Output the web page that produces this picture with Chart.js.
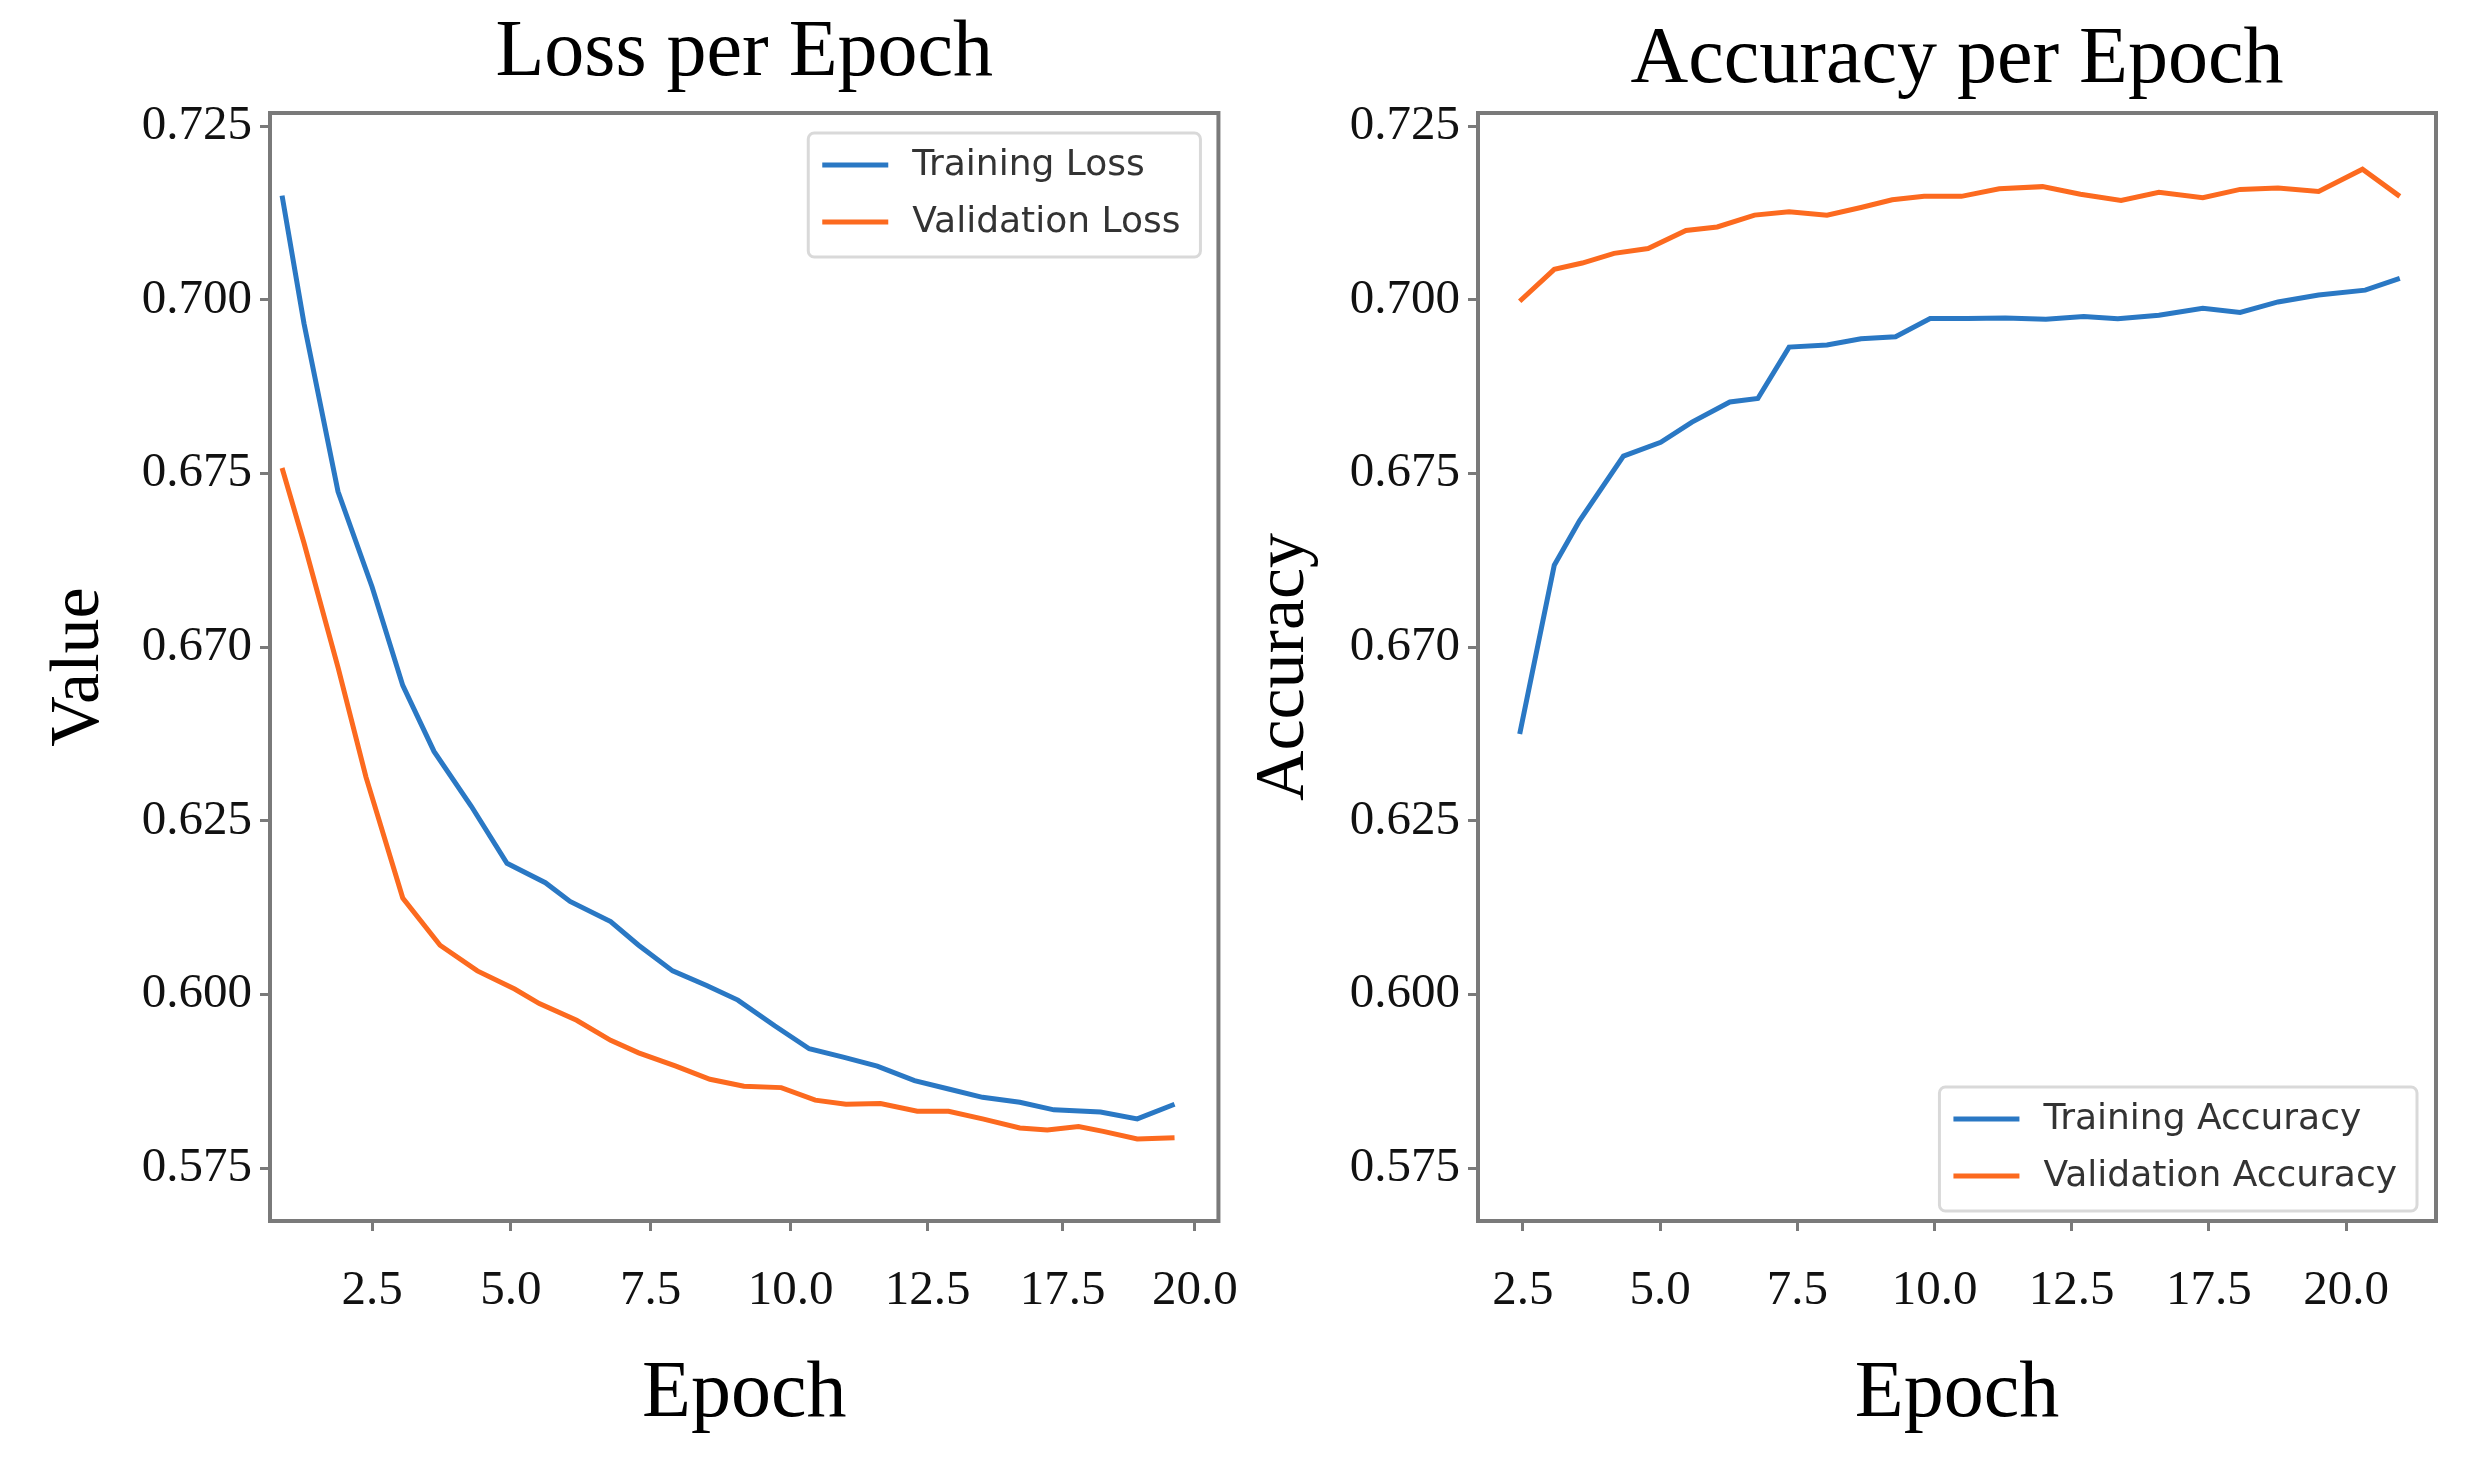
<!DOCTYPE html>
<html>
<head>
<meta charset="utf-8">
<title>Loss and Accuracy per Epoch</title>
<script src="https://cdn.jsdelivr.net/npm/chart.js@4.4.1/dist/chart.umd.min.js"></script>
<style>
    html, body { margin: 0; padding: 0; background: #fff; }
    body { width: 2492px; height: 1471px; position: relative; overflow: hidden; }
    canvas { position: absolute; top: 0; }
    #lossChart { left: 0; }
    #accChart { left: 1200px; }
</style>
</head>
<body>
<canvas id="lossChart" width="1270" height="1471"></canvas>
<canvas id="accChart" width="1292" height="1471"></canvas>
<script>
// Tick positions and the (odd) labels printed in the figure
const lossXTicks = [2.5, 5.03, 7.58, 10.13, 12.63, 15.09, 17.5];
const accXTicks = [2.5, 5, 7.5, 10, 12.5, 15, 17.5];
const xTickLabels = ['2.5', '5.0', '7.5', '10.0', '12.5', '17.5', '20.0'];
const yTickValues = [0.575, 0.600, 0.625, 0.650, 0.675, 0.700, 0.725];
const yTickLabels = ['0.575', '0.600', '0.625', '0.670', '0.675', '0.700', '0.725'];

// Loss per epoch
const lossTrainEpochs = [0.86, 1.26, 1.88, 2.50, 3.06, 3.63, 4.31, 4.96, 5.66, 6.11, 6.85, 7.36, 7.98, 8.60, 9.17, 9.84, 10.47, 11.09, 11.71, 12.39, 13.01, 13.63, 14.31, 14.93, 15.78, 16.45, 17.13];
const lossTrain = [0.7150, 0.6966, 0.6724, 0.6587, 0.6445, 0.6350, 0.6271, 0.6189, 0.6161, 0.6134, 0.6105, 0.6071, 0.6034, 0.6013, 0.5992, 0.5955, 0.5922, 0.5910, 0.5897, 0.5876, 0.5864, 0.5852, 0.5845, 0.5834, 0.5831, 0.5821, 0.5842];
const lossValEpochs = [0.86, 1.26, 1.88, 2.39, 3.06, 3.74, 4.42, 5.10, 5.55, 6.23, 6.85, 7.36, 8.04, 8.66, 9.28, 9.96, 10.58, 11.14, 11.77, 12.44, 13.01, 13.63, 14.31, 14.81, 15.38, 15.83, 16.45, 17.13];
const lossVal = [0.6758, 0.6650, 0.6471, 0.6313, 0.6139, 0.6071, 0.6034, 0.6008, 0.5987, 0.5963, 0.5934, 0.5916, 0.5897, 0.5878, 0.5868, 0.5866, 0.5848, 0.5842, 0.5843, 0.5832, 0.5832, 0.5821, 0.5808, 0.5805, 0.5810, 0.5803, 0.5792, 0.5794];

// Accuracy per epoch
const accTrainEpochs = [2.44, 3.07, 3.53, 4.33, 5.01, 5.58, 6.27, 6.78, 7.35, 8.04, 8.66, 9.29, 9.92, 10.60, 11.29, 12.03, 12.72, 13.34, 14.09, 14.89, 15.57, 16.26, 17.00, 17.85, 18.48];
const accTrain = [0.6375, 0.6618, 0.6682, 0.6775, 0.6795, 0.6824, 0.6853, 0.6858, 0.6932, 0.6935, 0.6944, 0.6947, 0.6973, 0.6973, 0.6974, 0.6972, 0.6976, 0.6973, 0.6978, 0.6988, 0.6982, 0.6997, 0.7007, 0.7014, 0.7031];
const accValEpochs = [2.44, 3.07, 3.58, 4.16, 4.78, 5.47, 6.04, 6.72, 7.35, 8.04, 8.66, 9.23, 9.81, 10.49, 11.18, 11.97, 12.66, 13.40, 14.09, 14.89, 15.57, 16.26, 17.00, 17.80, 18.48];
const accVal = [0.6998, 0.7044, 0.7053, 0.7067, 0.7074, 0.7100, 0.7105, 0.7122, 0.7127, 0.7122, 0.7133, 0.7144, 0.7149, 0.7149, 0.7160, 0.7163, 0.7152, 0.7143, 0.7155, 0.7147, 0.7159, 0.7161, 0.7156, 0.7188, 0.7149];

const BLUE = '#2a78c4';
const ORANGE = '#fc6a1f';
const SPINE = '#7a7a7a';
const SERIF = '"Liberation Serif", "Times New Roman", serif';

// plot area edges shared by both panels
const AREA_TOP = 113;
const AREA_BOTTOM = 1221;
const CANVAS_H = 1471;

Chart.defaults.font.family = SERIF;
Chart.defaults.color = '#111';

const toPoints = (xs, ys) => xs.map((x, i) => ({ x: x, y: ys[i] }));

// matplotlib-like frame round the plot area
const framePlugin = {
    id: 'frame',
    afterDatasetsDraw(chart) {
        const { ctx, chartArea: a } = chart;
        ctx.save();
        ctx.strokeStyle = SPINE;
        ctx.lineWidth = 4;
        ctx.strokeRect(a.left, a.top, a.right - a.left, a.bottom - a.top);
        ctx.restore();
    }
};

// boxed legend inside the plot area
const boxLegendPlugin = {
    id: 'boxLegend',
    afterDraw(chart, args, opts) {
        const { ctx, chartArea: a } = chart;
        const datasets = chart.data.datasets;
        ctx.save();
        ctx.font = '36px "DejaVu Sans", sans-serif';
        const textW = Math.max(...datasets.map(d => ctx.measureText(d.label).width));
        const w = 104 + textW + 20;
        const h = 124;
        const x = a.right - opts.right - w;
        const y = opts.corner === 'top' ? a.top + opts.offset : a.bottom - opts.offset - h;

        ctx.fillStyle = 'rgba(255,255,255,0.9)';
        ctx.strokeStyle = '#d9d9d9';
        ctx.lineWidth = 3;
        ctx.beginPath();
        ctx.roundRect(x, y, w, h, 6);
        ctx.fill();
        ctx.stroke();

        datasets.forEach((d, i) => {
            const rowY = y + 32 + i * 57;
            ctx.strokeStyle = d.borderColor;
            ctx.lineWidth = 5;
            ctx.beginPath();
            ctx.moveTo(x + 14, rowY);
            ctx.lineTo(x + 80, rowY);
            ctx.stroke();
            ctx.fillStyle = '#333';
            ctx.textBaseline = 'middle';
            ctx.fillText(d.label, x + 104, rowY + 1);
        });
        ctx.restore();
    }
};

function makeChart(canvasId, cfg) {
    const canvas = document.getElementById(canvasId);
    return new Chart(canvas.getContext('2d'), {
        type: 'line',
        data: {
            datasets: cfg.series.map(s => ({
                label: s.label,
                data: toPoints(s.xs, s.ys),
                borderColor: s.color,
                backgroundColor: s.color,
                borderWidth: 5,
                pointRadius: 0,
                tension: 0,
                fill: false
            }))
        },
        options: {
            responsive: false,
            animation: false,
            devicePixelRatio: 1,
            layout: { padding: { left: 0, right: cfg.padRight, top: 0, bottom: 0 } },
            plugins: {
                legend: { display: false },
                tooltip: { enabled: false },
                title: {
                    display: true,
                    text: cfg.title,
                    fullSize: false,
                    color: '#000',
                    font: { family: SERIF, size: 80, weight: 'normal', lineHeight: 1.2 },
                    padding: { top: cfg.titleTop, bottom: AREA_TOP - 96 - cfg.titleTop }
                },
                boxLegend: cfg.legend
            },
            scales: {
                x: {
                    type: 'linear',
                    min: cfg.xMin,
                    max: cfg.xMax,
                    afterBuildTicks: axis => { axis.ticks = cfg.xTicks.map(v => ({ value: v })); },
                    afterFit: axis => { axis.height = CANVAS_H - AREA_BOTTOM; },
                    border: { display: false },
                    grid: { drawOnChartArea: false, drawTicks: true, tickLength: 10, tickWidth: 3, tickColor: SPINE },
                    ticks: {
                        autoSkip: false,
                        maxRotation: 0,
                        padding: 31,
                        color: '#111',
                        font: { family: SERIF, size: 49 },
                        callback: (value, index) => xTickLabels[index]
                    },
                    title: {
                        display: true,
                        text: 'Epoch',
                        color: '#000',
                        font: { family: SERIF, size: 80, lineHeight: 1.2 },
                        padding: { top: 0, bottom: 28 }
                    }
                },
                y: {
                    type: 'linear',
                    min: 0.5674,
                    max: 0.7269,
                    afterBuildTicks: axis => { axis.ticks = yTickValues.map(v => ({ value: v })); },
                    afterFit: axis => { axis.width = cfg.yWidth; },
                    border: { display: false },
                    grid: { drawOnChartArea: false, drawTicks: true, tickLength: 10, tickWidth: 3, tickColor: SPINE },
                    ticks: {
                        autoSkip: false,
                        padding: 8,
                        color: '#111',
                        font: { family: SERIF, size: 49 },
                        callback: (value, index) => yTickLabels[index]
                    },
                    title: {
                        display: true,
                        text: cfg.yTitle,
                        color: '#000',
                        font: { family: SERIF, size: 70, lineHeight: 1.2 },
                        padding: { top: cfg.yTitlePad, bottom: 0 }
                    }
                }
            }
        },
        plugins: [framePlugin, boxLegendPlugin]
    });
}

makeChart('lossChart', {
    title: 'Loss per Epoch',
    titleTop: 6,
    yTitle: 'Value',
    yTitlePad: 38,
    yWidth: 270,
    padRight: 24,
    xMin: 0.64,
    xMax: 17.93,
    xTicks: lossXTicks,
    legend: { corner: 'top', right: 18, offset: 20 },
    series: [
        { label: 'Training Loss', xs: lossTrainEpochs, ys: lossTrain, color: BLUE },
        { label: 'Validation Loss', xs: lossValEpochs, ys: lossVal, color: ORANGE }
    ]
});

makeChart('accChart', {
    title: 'Accuracy per Epoch',
    titleTop: 13,
    yTitle: 'Accuracy',
    yTitlePad: 43,
    yWidth: 278,
    padRight: 56,
    xMin: 1.68,
    xMax: 19.14,
    xTicks: accXTicks,
    legend: { corner: 'bottom', right: 19, offset: 10 },
    series: [
        { label: 'Training Accuracy', xs: accTrainEpochs, ys: accTrain, color: BLUE },
        { label: 'Validation Accuracy', xs: accValEpochs, ys: accVal, color: ORANGE }
    ]
});
</script>
</body>
</html>
